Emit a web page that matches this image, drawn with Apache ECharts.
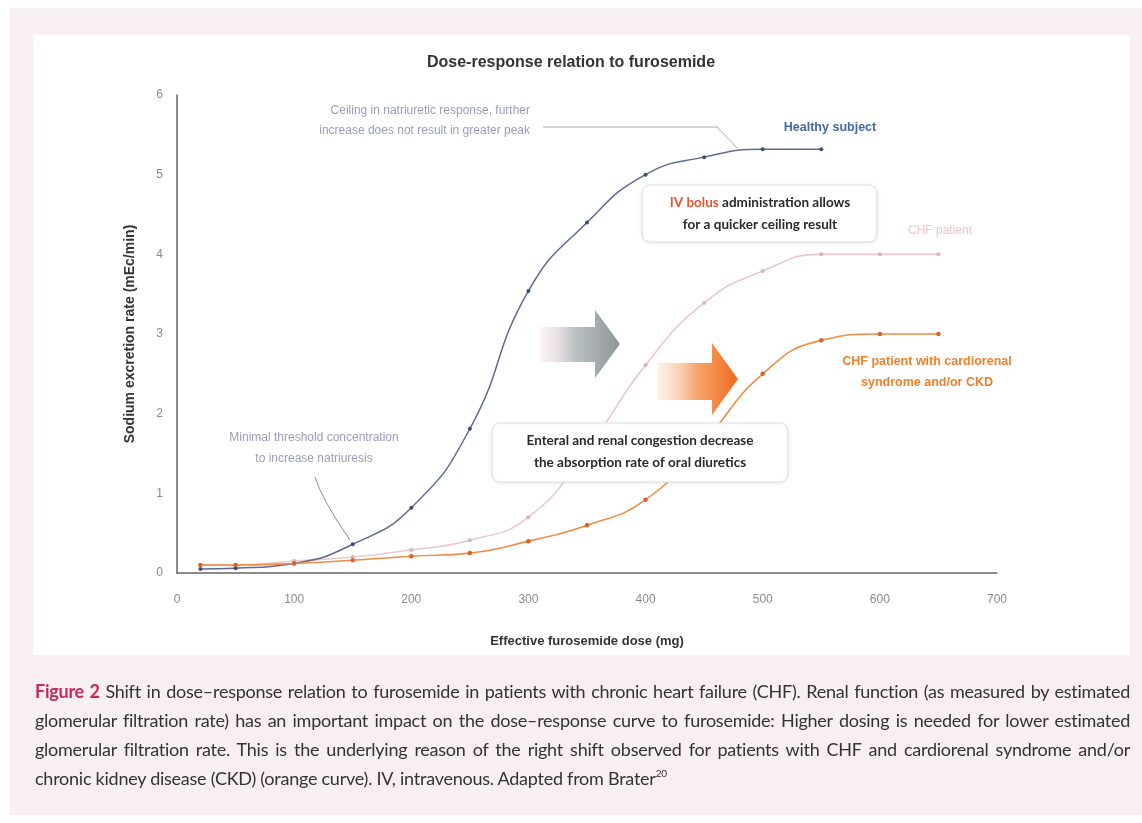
<!DOCTYPE html>
<html>
<head>
<meta charset="utf-8">
<script src="https://cdn.jsdelivr.net/npm/echarts@6/dist/echarts.min.js"></script>
<style>
  html, body { margin: 0; padding: 0; background: #ffffff; }
  #outer { position: absolute; left: 10px; top: 8px; width: 1132px; height: 807px; background: #f7eff1; }
  #panel { position: absolute; left: 33px; top: 35px; width: 1097px; height: 620px; background: #ffffff; }
  #chart { position: absolute; left: 0; top: 0; width: 1142px; height: 823px; }
  #caption { position: absolute; left: 35px; top: 677px; width: 1095px; font-family: "Lato", sans-serif; font-size: 18px; letter-spacing: -0.25px; line-height: 29px; color: #333; }
  #caption .j { display: block; white-space: nowrap; text-align: justify; text-align-last: justify; }
  #caption .l { display: block; white-space: nowrap; }
  #caption b { color: #c8285a; }
  #caption .sup { font-size: 10px; position: relative; top: -8px; line-height: 0; vertical-align: baseline; }
</style>
</head>
<body>
<div id="outer"></div>
<div id="panel"></div>
<div id="chart"></div>
<div id="caption">
  <span class="j"><b>Figure 2</b> Shift in dose–response relation to furosemide in patients with chronic heart failure (CHF). Renal function (as measured by estimated</span>
  <span class="j">glomerular filtration rate) has an important impact on the dose–response curve to furosemide: Higher dosing is needed for lower estimated</span>
  <span class="j">glomerular filtration rate. This is the underlying reason of the right shift observed for patients with CHF and cardiorenal syndrome and/or</span>
  <span class="l">chronic kidney disease (CKD) (orange curve). IV, intravenous. Adapted from Brater<span class="sup">20</span></span>
</div>
<script>
// ---- data ----
const healthyX = [20, 50, 100, 150, 200, 250, 300, 350, 400, 450, 500, 550];
const healthyY = [0.05, 0.06, 0.12, 0.36, 0.82, 1.81, 3.54, 4.4, 5.0, 5.22, 5.32, 5.32];
const chfX = [20, 50, 100, 150, 200, 250, 300, 350, 400, 450, 500, 550, 600, 650];
const chfY = [0.1, 0.1, 0.15, 0.2, 0.29, 0.41, 0.7, 1.55, 2.61, 3.39, 3.79, 4.0, 4.0, 4.0];
const ckdX = [20, 50, 100, 150, 200, 250, 300, 350, 400, 450, 500, 550, 600, 650];
const ckdY = [0.1, 0.1, 0.12, 0.16, 0.21, 0.25, 0.4, 0.6, 0.92, 1.65, 2.5, 2.92, 3.0, 3.0];
const xTicks = [0, 100, 200, 300, 400, 500, 600, 700];
const yTicks = [0, 1, 2, 3, 4, 5, 6];

const pair = (xs, ys) => xs.map((x, i) => [x, ys[i]]);

const chart = echarts.init(document.getElementById('chart'), null, { renderer: 'canvas' });

const annoGray = '#9a9cbc';
const sans = '"Liberation Sans", Arial, sans-serif';

const option = {
  backgroundColor: 'transparent',
  animation: false,
  title: {
    text: 'Dose-response relation to furosemide',
    left: 'center', top: 50,
    textStyle: { fontFamily: sans, fontSize: 16, fontWeight: 'bold', color: '#333' }
  },
  grid: { left: 177, top: 95, right: 145, bottom: 250 },
  xAxis: {
    type: 'value', min: xTicks[0], max: xTicks[xTicks.length - 1], interval: 100,
    name: 'Effective furosemide dose (mg)', nameLocation: 'middle', nameGap: 62,
    nameTextStyle: { fontFamily: sans, fontSize: 13, fontWeight: 'bold', color: '#333' },
    axisLine: { lineStyle: { color: '#666', width: 1.5 } },
    axisTick: { show: false },
    splitLine: { show: false },
    axisLabel: { margin: 21, color: '#8a8a8a', fontFamily: sans, fontSize: 12 }
  },
  yAxis: {
    type: 'value', min: yTicks[0], max: yTicks[yTicks.length - 1], interval: 1,
    name: 'Sodium excretion rate (mEc/min)', nameLocation: 'middle', nameGap: 40,
    nameTextStyle: { fontFamily: sans, fontSize: 14, fontWeight: 'bold', color: '#333' },
    axisLine: { lineStyle: { color: '#666', width: 1.5 } },
    axisTick: { show: false },
    splitLine: { show: false },
    axisLabel: { margin: 14, color: '#8a8a8a', fontFamily: sans, fontSize: 12 }
  },
  series: [
    {
      name: 'CHF patient', type: 'line', data: pair(chfX, chfY),
      smooth: 0.5, symbol: 'circle', symbolSize: 4,
      lineStyle: { color: '#e9c9cb', width: 1.6 }, itemStyle: { color: '#d9b3b6' }, z: 2
    },
    {
      name: 'Healthy subject', type: 'line', data: pair(healthyX, healthyY),
      smooth: 0.5, symbol: 'circle', symbolSize: 4,
      lineStyle: { color: '#5d6a92', width: 1.5 }, itemStyle: { color: '#3f4b72' }, z: 3
    },
    {
      name: 'CHF patient with cardiorenal syndrome and/or CKD', type: 'line', data: pair(ckdX, ckdY),
      smooth: 0.5, symbol: 'circle', symbolSize: 4.5,
      lineStyle: { color: '#f08c44', width: 1.6 }, itemStyle: { color: '#d9622a' }, z: 4
    }
  ],
  graphic: [
    // arrows
    {
      type: 'polygon', z: 1,
      shape: { points: [[540, 327], [595, 327], [595, 310], [620, 344], [595, 378], [595, 362], [540, 362]] },
      style: { fill: new echarts.graphic.LinearGradient(0, 0, 1, 0, [
        { offset: 0, color: 'rgba(245,215,220,0.25)' },
        { offset: 0.45, color: '#b9bfc2' },
        { offset: 1, color: '#8e9597' }]) }
    },
    {
      type: 'polygon', z: 1,
      shape: { points: [[657, 363], [712, 363], [712, 343], [738, 379], [712, 415], [712, 400], [657, 400]] },
      style: { fill: new echarts.graphic.LinearGradient(0, 0, 1, 0, [
        { offset: 0, color: 'rgba(252,215,190,0.3)' },
        { offset: 0.5, color: '#f6a46a' },
        { offset: 1, color: '#ee6a1e' }]) }
    },
    // leader lines
    {
      type: 'polyline', z: 5,
      shape: { points: [[543, 127], [717, 127], [737, 148]] },
      style: { stroke: '#a9a9a9', lineWidth: 1, fill: null }
    },
    {
      type: 'bezierCurve', z: 5,
      shape: { x1: 315, y1: 477, x2: 350, y2: 540, cpx1: 322, cpy1: 500 },
      style: { stroke: '#8a8a8a', lineWidth: 1, fill: null }
    },
    // gray annotations
    {
      type: 'text', z: 6, x: 530, y: 121,
      style: { text: 'Ceiling in natriuretic response, further\nincrease does not result in greater peak',
        fill: annoGray, font: '12px ' + sans, align: 'right', verticalAlign: 'middle', lineHeight: 20 }
    },
    {
      type: 'text', z: 6, x: 314, y: 448,
      style: { text: 'Minimal threshold concentration\nto increase natriuresis',
        fill: annoGray, font: '12px ' + sans, align: 'center', verticalAlign: 'middle', lineHeight: 21 }
    },
    // IV bolus box
    {
      type: 'rect', z: 8,
      shape: { x: 642, y: 185, width: 235, height: 57, r: 8 },
      style: { fill: '#ffffff', stroke: '#dedede', lineWidth: 1, shadowColor: 'rgba(0,0,0,0.08)', shadowBlur: 4, shadowOffsetY: 1 }
    },
    {
      type: 'text', z: 9, x: 760, y: 214,
      style: {
        text: '{r|IV bolus} {k|administration allows}\n{k|for a quicker ceiling result}',
        align: 'center', verticalAlign: 'middle',
        rich: {
          r: { fill: '#e8532f', font: 'bold 13.5px Lato, sans-serif', lineHeight: 22 },
          k: { fill: '#2a2a2a', font: 'bold 13.5px Lato, sans-serif', lineHeight: 22 }
        }
      }
    },
    // Enteral box
    {
      type: 'rect', z: 8,
      shape: { x: 492, y: 423, width: 296, height: 59, r: 8 },
      style: { fill: '#ffffff', stroke: '#dedede', lineWidth: 1, shadowColor: 'rgba(0,0,0,0.08)', shadowBlur: 4, shadowOffsetY: 1 }
    },
    {
      type: 'text', z: 9, x: 640, y: 452,
      style: {
        text: 'Enteral and renal congestion decrease\nthe absorption rate of oral diuretics',
        fill: '#2a2a2a', font: 'bold 13.5px Lato, sans-serif', align: 'center', verticalAlign: 'middle', lineHeight: 22
      }
    },
    // series labels
    {
      type: 'text', z: 6, x: 830, y: 128,
      style: { text: 'Healthy subject', fill: '#4567ab', font: 'bold 12.5px ' + sans, align: 'center', verticalAlign: 'middle' }
    },
    {
      type: 'text', z: 6, x: 940, y: 231,
      style: { text: 'CHF patient', fill: '#f0c6c6', font: '12px ' + sans, align: 'center', verticalAlign: 'middle' }
    },
    {
      type: 'text', z: 6, x: 927, y: 372,
      style: { text: 'CHF patient with cardiorenal\nsyndrome and/or CKD', fill: '#f07f2a', font: 'bold 12.5px ' + sans,
        align: 'center', verticalAlign: 'middle', lineHeight: 21 }
    }
  ]
};
chart.setOption(option);
</script>
</body>
</html>
